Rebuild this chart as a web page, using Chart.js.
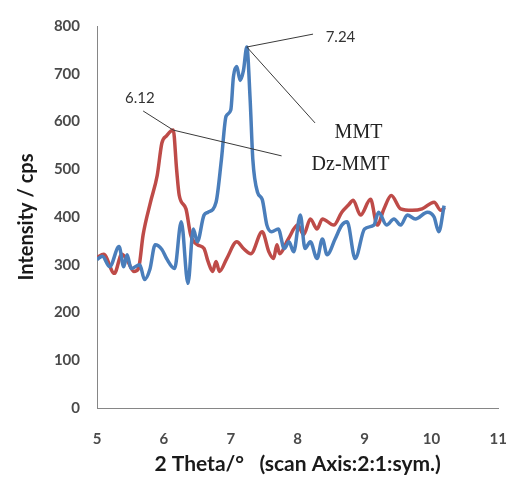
<!DOCTYPE html>
<html>
<head>
<meta charset="utf-8">
<script src="https://cdn.jsdelivr.net/npm/chart.js@4/dist/chart.umd.min.js"></script>
<style>
  html, body { margin: 0; padding: 0; background: #fff; }
  #wrap { width: 529px; height: 483px; }
</style>
</head>
<body>
<div id="wrap"><canvas id="xrdChart" width="529" height="483"></canvas></div>
<script>
// MMT (blue)
const mmtTheta = [5.0, 5.08, 5.19, 5.33, 5.40, 5.45, 5.51, 5.64, 5.71, 5.79, 5.87, 5.97, 6.04, 6.16, 6.26, 6.36, 6.44, 6.50, 6.60, 6.66, 6.78, 6.86, 6.93, 7.00, 7.04, 7.09, 7.14, 7.19, 7.24, 7.29, 7.33, 7.40, 7.47, 7.54, 7.61, 7.71, 7.80, 7.87, 7.94, 8.04, 8.11, 8.19, 8.29, 8.37, 8.44, 8.56, 8.66, 8.74, 8.86, 9.00, 9.14, 9.21, 9.33, 9.44, 9.54, 9.64, 9.76, 9.94, 10.04, 10.11, 10.19];
const mmtIntensity = [311, 318, 296, 338, 296, 321, 292, 300, 269, 290, 342, 332, 313, 292, 390, 261, 375, 348, 404, 410, 431, 520, 611, 624, 694, 715, 686, 707, 756, 645, 520, 452, 437, 383, 369, 375, 334, 348, 327, 404, 334, 348, 313, 354, 321, 354, 383, 390, 313, 375, 383, 410, 383, 396, 383, 404, 396, 410, 400, 369, 424];

// Dz-MMT (red)
const dzTheta = [5.0, 5.10, 5.26, 5.37, 5.45, 5.55, 5.62, 5.69, 5.80, 5.90, 5.97, 6.04, 6.14, 6.19, 6.23, 6.33, 6.40, 6.50, 6.60, 6.66, 6.73, 6.78, 6.83, 6.94, 7.09, 7.19, 7.30, 7.47, 7.57, 7.64, 7.69, 7.73, 7.86, 8.00, 8.09, 8.19, 8.29, 8.37, 8.54, 8.66, 8.76, 8.83, 8.94, 9.09, 9.19, 9.29, 9.40, 9.54, 9.71, 9.86, 10.04, 10.14, 10.20];
const dzIntensity = [315, 322, 282, 322, 310, 286, 292, 363, 431, 487, 555, 570, 582, 500, 445, 417, 363, 342, 334, 307, 286, 307, 286, 313, 348, 334, 323, 369, 327, 313, 342, 323, 354, 383, 363, 396, 375, 396, 383, 410, 425, 435, 404, 437, 383, 417, 445, 417, 414, 417, 431, 414, 420];

const xTicks = [5, 6, 7, 8, 9, 10, 11];
const yTicks = [0, 100, 200, 300, 400, 500, 600, 700, 800];

// callouts, in data units
const callouts = [
  { text: '6.12', at: [5.64, 649], peak: [6.14, 582], lines: [[5.69, 622], [7.76, 528]] },
  { text: '7.24', at: [8.64, 777], peak: [7.24, 756], lines: [[8.23, 783], [8.26, 597]] }
];
const seriesLabels = [
  { text: 'MMT', at: [8.91, 576] },
  { text: 'Dz-MMT', at: [8.79, 510] }
];

const toPoints = (xs, ys) => xs.map((x, i) => ({ x: x, y: ys[i] }));

const calloutPlugin = {
  id: 'callouts',
  afterDatasetsDraw(chart) {
    const { ctx, scales: { x, y } } = chart;
    const px = p => [x.getPixelForValue(p[0]), y.getPixelForValue(p[1])];
    ctx.save();
    ctx.strokeStyle = '#3a3a3a';
    ctx.lineWidth = 1;
    callouts.forEach(c => {
      const pk = px(c.peak);
      c.lines.forEach(l => {
        const e = px(l);
        ctx.beginPath();
        ctx.moveTo(pk[0], pk[1]);
        ctx.lineTo(e[0], e[1]);
        ctx.stroke();
      });
      const t = px(c.at);
      ctx.fillStyle = '#333';
      ctx.font = '15px Lato';
      ctx.textAlign = 'center';
      ctx.textBaseline = 'middle';
      ctx.fillText(c.text, t[0], t[1]);
    });
    seriesLabels.forEach(s => {
      const t = px(s.at);
      ctx.fillStyle = '#222';
      ctx.font = '20px "Liberation Serif"';
      ctx.textAlign = 'center';
      ctx.textBaseline = 'middle';
      ctx.fillText(s.text, t[0], t[1]);
    });
    ctx.restore();
  }
};

new Chart(document.getElementById('xrdChart'), {
  type: 'line',
  data: {
    datasets: [{
      label: 'MMT',
      data: toPoints(mmtTheta, mmtIntensity),
      borderColor: '#4a7ebb',
      borderWidth: 3.5,
      pointRadius: 0,
      cubicInterpolationMode: 'monotone'
    }, {
      label: 'Dz-MMT',
      data: toPoints(dzTheta, dzIntensity),
      borderColor: '#be4b48',
      borderWidth: 3.5,
      pointRadius: 0,
      cubicInterpolationMode: 'monotone'
    }]
  },
  options: {
    responsive: false,
    animation: false,
    layout: { padding: { left: 8, right: 12, top: 22, bottom: 6 } },
    plugins: { legend: { display: false }, tooltip: { enabled: false } },
    scales: {
      x: {
        type: 'linear',
        min: xTicks[0],
        max: xTicks[xTicks.length - 1],
        afterBuildTicks: s => { s.ticks = xTicks.map(v => ({ value: v })); },
        afterFit: s => { s.height = 69; },
        grid: { display: false, drawTicks: false },
        border: { display: true, color: '#868686', width: 1 },
        ticks: { padding: 22, color: '#4a4a4a', font: { family: 'Lato', size: 15, weight: 'bold' } },
        title: {
          display: true,
          text: '2 Theta/\u00b0   (scan Axis:2:1:sym.)',
          color: '#1a1a1a',
          font: { family: 'Lato', size: 21, weight: 'bold' },
          padding: { top: 2, bottom: 0 }
        }
      },
      y: {
        min: yTicks[0],
        max: yTicks[yTicks.length - 1],
        afterBuildTicks: s => { s.ticks = yTicks.map(v => ({ value: v })); },
        afterFit: s => { s.width = 89; },
        grid: { display: false, drawTicks: false },
        border: { display: true, color: '#868686', width: 1 },
        ticks: { padding: 17, color: '#4a4a4a', font: { family: 'Lato', size: 15, weight: 'bold' } },
        title: {
          display: true,
          text: 'Intensity / cps',
          color: '#1a1a1a',
          font: { family: 'Lato', size: 20, weight: 'bold' },
          padding: { top: 7, bottom: 0 }
        }
      }
    }
  },
  plugins: [calloutPlugin]
});
</script>
</body>
</html>
